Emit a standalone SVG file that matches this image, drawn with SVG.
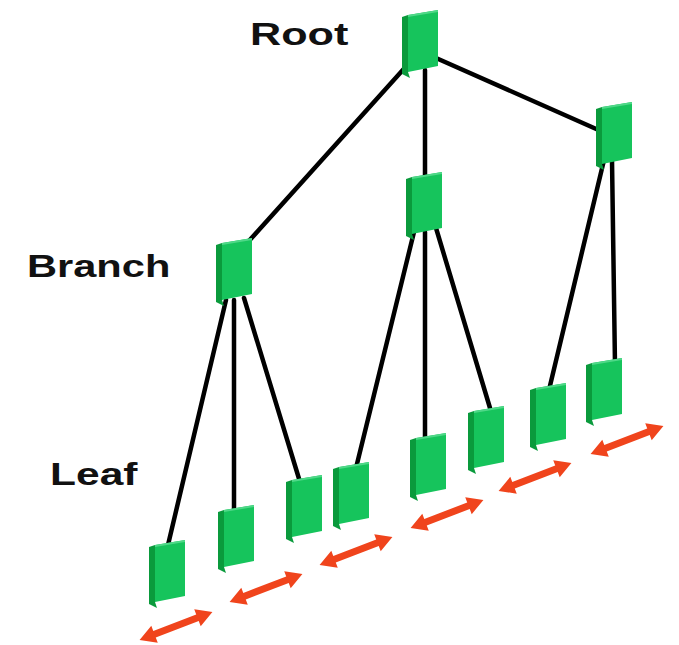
<svg xmlns="http://www.w3.org/2000/svg" xmlns:xlink="http://www.w3.org/1999/xlink" width="679" height="645" viewBox="0 0 679 645">
<style>
.lbl{font-family:"Liberation Sans",Arial,sans-serif;font-weight:bold;font-size:32px;fill:#111}
.edge{stroke:#000;stroke-width:4.5;stroke-linecap:round;fill:none}
.side{fill:#0a9a3c}
.front{fill:#16c45c}
.hl{fill:#4fd888}
.arr{fill:#f0441c}
</style>
<defs>
<g id="box">
<polygon class="side" points="-6,2 0,0 0,57 2,63 -6,59"/>
<polygon class="front" points="0,0 30,-5 30,51 0,57"/>
<polygon class="hl" points="0,0 30,-5 30,-3 0,2"/>
</g>
<polygon id="dar" class="arr" points="-39,0 -23,-9 -23,-3.5 23,-3.5 23,-9 39,0 23,9 23,3.5 -23,3.5 -23,9"/>
</defs>
<rect width="679" height="645" fill="#fff"/>
<g id="labels">
<text class="lbl" transform="translate(250,45) scale(1.35,1)">Root</text>
<text class="lbl" transform="translate(27,277) scale(1.3,1)">Branch</text>
<text class="lbl" transform="translate(50,485) scale(1.33,1)">Leaf</text>
</g>
<g id="connectors">
<line class="edge" x1="410" y1="62" x2="248" y2="242"/>
<line class="edge" x1="425" y1="70" x2="425" y2="178"/>
<line class="edge" x1="436" y1="58" x2="603" y2="132"/>
<line class="edge" x1="226" y1="300" x2="168" y2="545"/>
<line class="edge" x1="234" y1="300" x2="234" y2="515"/>
<line class="edge" x1="244" y1="298" x2="300" y2="482"/>
<line class="edge" x1="414" y1="232" x2="356" y2="468"/>
<line class="edge" x1="425" y1="232" x2="425" y2="440"/>
<line class="edge" x1="436" y1="228" x2="490" y2="408"/>
<line class="edge" x1="604" y1="160" x2="549" y2="390"/>
<line class="edge" x1="612" y1="160" x2="615" y2="365"/>
</g>
<g id="root"><use xlink:href="#box" href="#box" transform="translate(408,15)"/></g>
<g id="branch-left"><use xlink:href="#box" href="#box" transform="translate(222,243)"/></g>
<g id="branch-mid"><use xlink:href="#box" href="#box" transform="translate(412,177)"/></g>
<g id="branch-right"><use xlink:href="#box" href="#box" transform="translate(602,107)"/></g>
<g id="leaf1"><use xlink:href="#box" href="#box" transform="translate(155,545)"/></g>
<g id="leaf2"><use xlink:href="#box" href="#box" transform="translate(224,510)"/></g>
<g id="leaf3"><use xlink:href="#box" href="#box" transform="translate(292,480)"/></g>
<g id="leaf4"><use xlink:href="#box" href="#box" transform="translate(339,467)"/></g>
<g id="leaf5"><use xlink:href="#box" href="#box" transform="translate(416,438)"/></g>
<g id="leaf6"><use xlink:href="#box" href="#box" transform="translate(474,411)"/></g>
<g id="leaf7"><use xlink:href="#box" href="#box" transform="translate(536,388)"/></g>
<g id="leaf8"><use xlink:href="#box" href="#box" transform="translate(592,363)"/></g>
<g id="arrows">
<use xlink:href="#dar" href="#dar" transform="translate(176,626) rotate(-21)"/>
<use xlink:href="#dar" href="#dar" transform="translate(266,588) rotate(-21)"/>
<use xlink:href="#dar" href="#dar" transform="translate(356,551) rotate(-21)"/>
<use xlink:href="#dar" href="#dar" transform="translate(447,514) rotate(-21)"/>
<use xlink:href="#dar" href="#dar" transform="translate(535,477) rotate(-21)"/>
<use xlink:href="#dar" href="#dar" transform="translate(627,440) rotate(-21)"/>
</g>
</svg>
